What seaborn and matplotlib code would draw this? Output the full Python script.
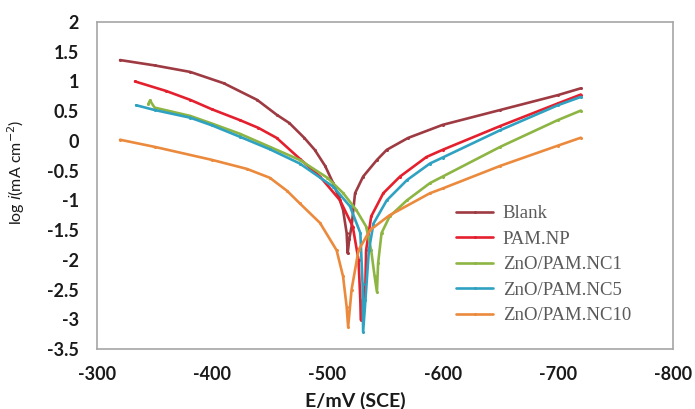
import matplotlib
matplotlib.use("Agg")
import matplotlib.pyplot as plt
import seaborn as sns
import pandas as pd

# ---- data ----
blank_E = [-320, -350, -381, -410, -439, -456, -467, -480, -489, -498, -505, -510, -513.6, -516.7,
           -517.6, -519, -521, -524, -531, -543, -551.5, -570, -600, -650, -700, -720]
blank_y = [1.36, 1.27, 1.16, 0.97, 0.69, 0.44, 0.30, 0.05, -0.15, -0.42, -0.71, -0.95, -1.16, -1.55,
           -1.89, -1.65, -1.44, -0.88, -0.60, -0.32, -0.15, 0.05, 0.27, 0.52, 0.77, 0.885]

pam_E = [-333, -360, -381, -400, -424, -440, -456, -476, -493.6, -511, -522, -527, -528.6, -529,
         -531, -533, -533.6, -538, -548.5, -563, -586, -600, -650, -700, -720]
pam_y = [1.00, 0.84, 0.69, 0.53, 0.35, 0.22, 0.05, -0.30, -0.60, -1.00, -1.44, -2.00, -2.68, -3.01,
         -2.70, -2.40, -1.84, -1.27, -0.88, -0.60, -0.27, -0.15, 0.25, 0.63, 0.78]

nc1_E = [-344.5, -346, -350, -381, -400, -424, -450, -476, -500, -513.8, -525, -533.6, -538, -541,
         -543, -544, -547, -554, -569, -589, -600, -650, -700, -720]
nc1_y = [0.62, 0.68, 0.56, 0.42, 0.29, 0.12, -0.10, -0.32, -0.62, -0.88, -1.16, -1.44, -1.84, -2.28,
         -2.54, -2.06, -1.55, -1.27, -1.00, -0.71, -0.60, -0.10, 0.35, 0.51]

nc5_E = [-334, -350, -381, -400, -424, -450, -476, -505, -519.6, -528.6, -530.5, -531, -533, -536,
         -540, -551.5, -569, -589, -600, -650, -700, -720]
nc5_y = [0.60, 0.52, 0.39, 0.26, 0.07, -0.14, -0.38, -0.77, -1.10, -1.55, -2.40, -3.21, -2.68, -1.84,
         -1.39, -1.00, -0.66, -0.38, -0.28, 0.18, 0.60, 0.74]

nc10_E = [-320, -350, -400, -430, -450, -465, -476, -493.6, -508, -513.6, -516.7, -518, -521, -527, -537,
          -554, -589, -600, -650, -700, -720]
nc10_y = [0.02, -0.10, -0.32, -0.47, -0.62, -0.84, -1.05, -1.38, -1.84, -2.28, -2.79, -3.13, -2.50, -1.84, -1.50,
          -1.25, -0.88, -0.80, -0.42, -0.08, 0.054]

series_names = ["Blank", "PAM.NP", "ZnO/PAM.NC1", "ZnO/PAM.NC5", "ZnO/PAM.NC10"]
series_E = [blank_E, pam_E, nc1_E, nc5_E, nc10_E]
series_y = [blank_y, pam_y, nc1_y, nc5_y, nc10_y]
colors = ["#9E3A42", "#E5202E", "#8DB543", "#2FA2C2", "#EB8A3C"]

xticks = [-300, -400, -500, -600, -700, -800]
yticks = [2, 1.5, 1, 0.5, 0, -0.5, -1, -1.5, -2, -2.5, -3, -3.5]

rows = []
for name, E, y in zip(series_names, series_E, series_y):
    for e, v in zip(E, y):
        rows.append({"E": e, "logi": v, "series": name})
df = pd.DataFrame(rows)

sns.set_style("white")
plt.rcParams["axes.unicode_minus"] = False
plt.rcParams["font.family"] = ["Lato", "DejaVu Sans"]

fig = plt.figure(figsize=(6.95, 4.09), dpi=100)
ax = fig.add_axes([97 / 695, 1 - 349 / 409, 576 / 695, 327 / 409])

sns.lineplot(data=df, x="E", y="logi", hue="series", hue_order=series_names,
             palette=colors, estimator=None, sort=False, ax=ax,
             linewidth=1.9, marker="o", markersize=2.2, markeredgewidth=0)

ax.set_xlim(-300, -800)
ax.set_ylim(-3.5, 2)
ax.set_xticks(xticks)
ax.set_xticklabels([str(t) for t in xticks])
ax.set_yticks(yticks)
ax.set_yticklabels([("%g" % t) for t in yticks])

for s in ax.spines.values():
    s.set_color("#A6A6A6")
    s.set_linewidth(1.2)
ax.tick_params(axis="both", direction="in", length=5, width=1, color="#A6A6A6",
               labelsize=13, labelcolor="#1a1a1a")
ax.tick_params(axis="y", pad=13)
ax.tick_params(axis="x", pad=12)
for lab in ax.get_xticklabels() + ax.get_yticklabels():
    lab.set_fontweight("bold")

ax.set_xlabel("E/mV (SCE)", fontsize=14, fontweight="bold", color="#1a1a1a")
ax.xaxis.set_label_coords(0.448, -0.13)
ax.set_ylabel(r"log $\mathit{i}$(mA cm$^{-2}$)", fontsize=11.5, color="#1a1a1a")
ax.yaxis.set_label_coords(-0.122, 0.54)

leg = ax.legend(loc="upper left", bbox_to_anchor=(0.623, 0.44), frameon=False,
                borderpad=0, borderaxespad=0, handlelength=2.0, handletextpad=0.5,
                labelspacing=0.45, prop={"family": "Liberation Serif", "size": 13.5})
for t in leg.get_texts():
    t.set_color("#5a5a5a")

fig.savefig("out.png", dpi=100)
